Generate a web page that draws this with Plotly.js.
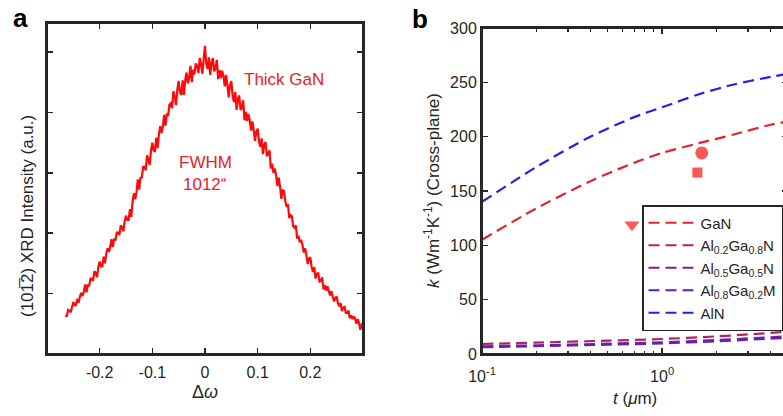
<!DOCTYPE html>
<html>
<head>
<meta charset="utf-8">
<script src="https://cdn.plot.ly/plotly-3.0.1.min.js"></script>
<style>
html,body{margin:0;padding:0;overflow:hidden;background:#fff;width:783px;height:416px;}
#chart{width:790px;height:416px;}
</style>
</head>
<body>
<div id="chart"></div>
<script>
// ---------- Panel a: XRD rocking curve ----------
var xrdOmega = [-0.2650,-0.2625,-0.2600,-0.2575,-0.2550,-0.2525,-0.2500,-0.2475,-0.2450,-0.2425,-0.2400,-0.2375,-0.2350,-0.2325,-0.2300,-0.2275,-0.2250,-0.2225,-0.2200,-0.2175,-0.2150,-0.2125,-0.2100,-0.2075,-0.2050,-0.2025,-0.2000,-0.1975,-0.1950,-0.1925,-0.1900,-0.1875,-0.1850,-0.1825,-0.1800,-0.1775,-0.1750,-0.1725,-0.1700,-0.1675,-0.1650,-0.1625,-0.1600,-0.1575,-0.1550,-0.1525,-0.1500,-0.1475,-0.1450,-0.1425,-0.1400,-0.1375,-0.1350,-0.1325,-0.1300,-0.1275,-0.1250,-0.1225,-0.1200,-0.1175,-0.1150,-0.1125,-0.1100,-0.1075,-0.1050,-0.1025,-0.1000,-0.0975,-0.0950,-0.0925,-0.0900,-0.0875,-0.0850,-0.0825,-0.0800,-0.0775,-0.0750,-0.0725,-0.0700,-0.0675,-0.0650,-0.0625,-0.0600,-0.0575,-0.0550,-0.0525,-0.0500,-0.0475,-0.0450,-0.0425,-0.0400,-0.0375,-0.0350,-0.0325,-0.0300,-0.0275,-0.0250,-0.0225,-0.0200,-0.0175,-0.0150,-0.0125,-0.0100,-0.0075,-0.0050,-0.0025,0.0000,0.0025,0.0050,0.0075,0.0100,0.0125,0.0150,0.0175,0.0200,0.0225,0.0250,0.0275,0.0300,0.0325,0.0350,0.0375,0.0400,0.0425,0.0450,0.0475,0.0500,0.0525,0.0550,0.0575,0.0600,0.0625,0.0650,0.0675,0.0700,0.0725,0.0750,0.0775,0.0800,0.0825,0.0850,0.0875,0.0900,0.0925,0.0950,0.0975,0.1000,0.1025,0.1050,0.1075,0.1100,0.1125,0.1150,0.1175,0.1200,0.1225,0.1250,0.1275,0.1300,0.1325,0.1350,0.1375,0.1400,0.1425,0.1450,0.1475,0.1500,0.1525,0.1550,0.1575,0.1600,0.1625,0.1650,0.1675,0.1700,0.1725,0.1750,0.1775,0.1800,0.1825,0.1850,0.1875,0.1900,0.1925,0.1950,0.1975,0.2000,0.2025,0.2050,0.2075,0.2100,0.2125,0.2150,0.2175,0.2200,0.2225,0.2250,0.2275,0.2300,0.2325,0.2350,0.2375,0.2400,0.2425,0.2450,0.2475,0.2500,0.2525,0.2550,0.2575,0.2600,0.2625,0.2650,0.2675,0.2700,0.2725,0.2750,0.2775,0.2800,0.2825,0.2850,0.2875,0.2900,0.2925,0.2950,0.2975,0.3000];
var xrdIntensity = [0.64,0.62,0.73,0.72,0.69,0.79,0.86,0.81,0.81,0.91,0.85,0.95,1.01,0.96,1.03,1.15,1.02,1.15,1.12,1.25,1.25,1.21,1.37,1.34,1.27,1.44,1.53,1.45,1.45,1.61,1.50,1.66,1.75,1.69,1.77,1.90,1.77,1.91,1.88,2.01,2.01,1.97,2.13,2.10,2.03,2.20,2.29,2.22,2.22,2.40,2.27,2.52,2.66,2.56,2.68,2.89,2.72,2.93,2.91,3.10,3.10,3.04,3.29,3.23,3.13,3.37,3.50,3.37,3.36,3.58,3.41,3.64,3.77,3.66,3.77,3.96,3.78,3.98,3.94,4.13,4.15,4.07,4.35,4.26,4.12,4.38,4.52,4.33,4.29,4.53,4.29,4.54,4.66,4.48,4.58,4.77,4.50,4.71,4.63,4.81,4.77,4.65,4.90,4.80,4.64,4.89,5.10,4.80,4.72,4.91,4.62,4.82,4.90,4.68,4.73,4.87,4.55,4.70,4.57,4.69,4.60,4.43,4.62,4.46,4.25,4.45,4.52,4.27,4.17,4.34,4.04,4.22,4.28,4.04,4.08,4.20,3.87,4.01,3.86,3.97,3.87,3.70,3.85,3.71,3.53,3.68,3.73,3.52,3.43,3.57,3.31,3.46,3.51,3.29,3.30,3.37,3.07,3.15,3.00,3.07,2.96,2.78,2.92,2.77,2.57,2.71,2.70,2.53,2.44,2.48,2.25,2.30,2.28,2.11,2.09,2.13,1.91,1.96,1.85,1.89,1.81,1.68,1.75,1.64,1.49,1.58,1.60,1.44,1.36,1.44,1.25,1.33,1.34,1.20,1.21,1.27,1.07,1.14,1.05,1.12,1.05,0.97,1.04,0.96,0.87,0.93,0.95,0.84,0.79,0.84,0.71,0.77,0.78,0.68,0.68,0.72,0.59,0.64,0.58,0.62,0.58,0.50,0.58,0.51,0.40,0.49,0.52];
var xrdTickVals = [-0.2,-0.1,0,0.1,0.2];
var xrdTickText = ['-0.2','-0.1','0','0.1','0.2'];

// ---------- Panel b: thermal conductivity ----------
var thickness = [0.1,0.2,0.4,0.7,1,1.6,2.5,4,5];
var kGaN = [105,134,159,176,185,194,202,211,214];
var kAlN = [140,172,200,218,227,239,248,255,258];
var thicknessAlloy = [0.1,0.2,0.5,1,2,3,5];
var kAl02 = [9.2,10.5,12.3,13.8,16.2,18.0,20.5];
var kAl05 = [7.0,8.0,9.5,10.8,12.8,14.3,16.3];
var kAl08 = [6.2,7.2,8.6,9.8,11.7,13.1,15.0];
var measT = [1.66,1.57,0.68];
var measK = [185,167,119];
var measSymbols = ['circle','square','triangle-down'];
var seriesNames = ['GaN','Al<sub>0.2</sub>Ga<sub>0.8</sub>N','Al<sub>0.5</sub>Ga<sub>0.5</sub>N','Al<sub>0.8</sub>Ga<sub>0.2</sub>M','AlN'];
var seriesColors = ['#e3212f','#b3245c','#7d2388','#5a22c4','#2222e6'];
var logTickVals = [0.1,1];
var logTickText = ['10<sup>-1</sup>','10<sup>0</sup>'];
var logMinorVals = [0.2,0.3,0.4,0.5,0.6,0.7,0.8,0.9,2,3,4,5];

var W = 790, H = 416;
var FONT = 'Liberation Sans, Arial, Helvetica, sans-serif';
var INK = '#262626';
function px(x){return x/W;}
function py(y){return (H-y)/H;}

var dashStyle = '11px,6px';
function curve(x, y, i){
  return {x:x, y:y, name:seriesNames[i], xaxis:'x2', yaxis:'y2', mode:'lines',
    line:{color:seriesColors[i], width:2.2, dash:dashStyle, shape:'spline', smoothing:0.8}};
}
var traces = [
  {x: xrdOmega, y: xrdIntensity, type:'scatter', mode:'lines', xaxis:'x', yaxis:'y',
   line:{color:'#ff0a0a', width:2.2}, showlegend:false, hoverinfo:'skip'},
  curve(thickness, kGaN, 0),
  curve(thicknessAlloy, kAl02, 1),
  curve(thicknessAlloy, kAl05, 2),
  curve(thicknessAlloy, kAl08, 3),
  curve(thickness, kAlN, 4),
  {x: measT, y: measK, xaxis:'x2', yaxis:'y2', mode:'markers', showlegend:false,
   marker:{color:'#ff1010', symbol: measSymbols, size:[13,10,13], line:{width:0}}}
];

var axisCommon = {showline:true, linewidth:2, linecolor:INK, mirror:'ticks', ticks:'inside',
  ticklen:6, tickwidth:1.5, tickcolor:INK, showgrid:false, zeroline:false,
  tickfont:{family:FONT, size:16, color:INK}};

function note(text, x, y, size, extra){
  return Object.assign({text:text, x:px(x), y:py(y), xref:'paper', yref:'paper', showarrow:false,
    xanchor:'center', yanchor:'middle', font:{family:FONT, size:size, color:INK}}, extra||{});
}
function dataNote(text, x, y){
  return {text:text, x:x, y:y, xref:'x', yref:'y', showarrow:false, xanchor:'center', yanchor:'middle',
    font:{family:FONT, size:17, color:'#e8202a'}};
}
function frame(l, r, t, b){
  return {type:'rect', xref:'paper', yref:'paper', x0:px(l), x1:px(r), y0:py(b), y1:py(t),
    line:{color:INK, width:2}, fillcolor:'rgba(0,0,0,0)', layer:'above'};
}

var layout = {
  width: W, height: H, margin:{l:0,r:0,t:0,b:0}, paper_bgcolor:'#fff', plot_bgcolor:'#fff',
  font:{family:FONT, color:INK},
  xaxis: Object.assign({}, axisCommon, {domain:[px(47), px(363)], range:[-0.3,0.3], tickmode:'array', tickvals:xrdTickVals, ticktext:xrdTickText, anchor:'y', ticklabelstandoff:3}),
  yaxis: Object.assign({}, axisCommon, {domain:[py(354), py(23)], range:[0,5.48], tickmode:'array', tickvals:[1,2,3,4,5], showticklabels:false, anchor:'x'}),
  xaxis2: Object.assign({}, axisCommon, {domain:[px(482), px(788)], type:'log', range:[-1, Math.log10(5)], tickmode:'array', tickvals:logTickVals, ticktext:logTickText, anchor:'y2', ticklabelstandoff:7,
     minor:{tickmode:'array', tickvals:logMinorVals, ticks:'inside', ticklen:3.5, tickwidth:1.2, tickcolor:INK}}),
  yaxis2: Object.assign({}, axisCommon, {domain:[py(354), py(28)], range:[0,300], tickmode:'array', tickvals:[0,50,100,150,200,250,300], anchor:'x2'}),
  shapes: [frame(47, 363, 23, 354), frame(482, 788, 28, 354)],
  showlegend: true,
  legend: {x: px(642), y: py(205), xanchor:'left', yanchor:'top', bgcolor:'#fff', bordercolor:INK, borderwidth:1.5,
     font:{family:FONT, size:15, color:INK}, tracegroupgap:0, itemwidth:47},
  annotations: [
    note('<b>a</b>', 20, 17.6, 26, {font:{family:FONT, size:26, color:'#000'}}),
    note('<b>b</b>', 420, 18.5, 26, {font:{family:FONT, size:26, color:'#000'}}),
    note('(101\u03052) XRD Intensity (a.u.)', 28, 216, 17, {textangle:-90}),
    note('\u0394<i>\u03c9</i>', 205, 392, 18),
    note('<i>k</i> (Wm<sup>-1</sup>K<sup>-1</sup>) (Cross-plane)', 432, 191, 17, {textangle:-90}),
    note('<i>t</i> (<i>\u03bc</i>m)', 635, 398, 17),
    dataNote('Thick GaN', 0.15, 4.54),
    dataNote('FWHM', 0, 3.17),
    dataNote('1012\u201c', 0, 2.80)
  ]
};

Plotly.newPlot('chart', traces, layout, {staticPlot:true, displayModeBar:false});
</script>
</body>
</html>
